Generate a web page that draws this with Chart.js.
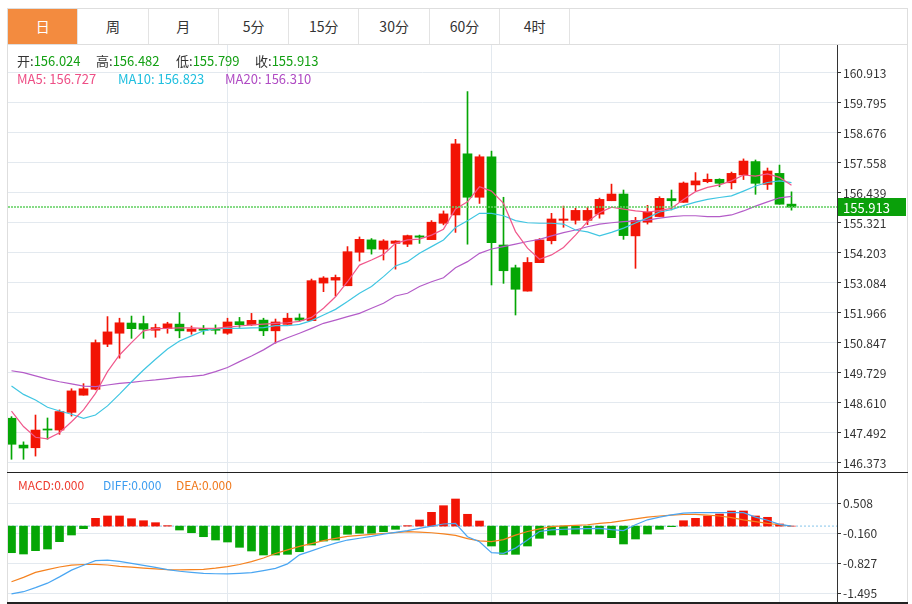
<!DOCTYPE html>
<html><head><meta charset="utf-8">
<script src="https://cdn.jsdelivr.net/npm/chart.js@4.4.0/dist/chart.umd.min.js"></script>
<style>
html,body{margin:0;padding:0;background:#fff;width:912px;height:604px;overflow:hidden;font-family:"Microsoft YaHei","Noto Sans CJK SC",sans-serif;}
#frame{position:absolute;left:7px;top:8px;width:901px;height:596px;border:1px solid #dedede;border-bottom:none;box-sizing:border-box;}
#tabs{position:absolute;left:7px;top:8px;width:901px;height:37px;border:1px solid #dedede;box-sizing:border-box;display:flex;background:#fff;}
.tab{width:70.3px;height:35px;line-height:35px;text-align:center;font-size:14px;color:#333;border-right:1px solid #e3e3e3;box-sizing:border-box;flex:none;}
.tab.on{background:#f38b3f;color:#fff;}
.lg{position:absolute;font-size:13px;line-height:16px;white-space:nowrap;z-index:2;}
.lm{position:absolute;font-size:12px;line-height:14px;white-space:nowrap;z-index:2;}
.k{color:#333}.g{color:#14a014}
#mainWrap{position:absolute;left:8px;top:45px;width:899px;height:427px;}
#macdWrap{position:absolute;left:8px;top:473px;width:899px;height:129px;}
#sep{position:absolute;left:7px;top:472px;width:901px;height:1px;background:#222;}
#bot{position:absolute;left:7px;top:602px;width:901px;height:2px;background:#222;}
</style></head>
<body>
<div id="frame"></div>
<div id="tabs">
<div class="tab on">日</div><div class="tab">周</div><div class="tab">月</div><div class="tab">5分</div><div class="tab">15分</div><div class="tab">30分</div><div class="tab">60分</div><div class="tab">4时</div>
</div>
<div class="lg" style="left:17px;top:53px"><span class="k">开:</span><span class="g">156.024</span></div>
<div class="lg" style="left:96px;top:53px"><span class="k">高:</span><span class="g">156.482</span></div>
<div class="lg" style="left:176px;top:53px"><span class="k">低:</span><span class="g">155.799</span></div>
<div class="lg" style="left:255px;top:53px"><span class="k">收:</span><span class="g">155.913</span></div>
<div class="lg" style="left:17px;top:71px;color:#ee4f86">MA5: 156.727</div>
<div class="lg" style="left:118px;top:71px;color:#1fbfdf">MA10: 156.823</div>
<div class="lg" style="left:225px;top:71px;color:#b04cc4">MA20: 156.310</div>
<div class="lm" style="left:18px;top:478px;color:#ee3b2f">MACD:0.000</div>
<div class="lm" style="left:103px;top:478px;color:#3d9df0">DIFF:0.000</div>
<div class="lm" style="left:176px;top:478px;color:#f07a1e">DEA:0.000</div>
<div id="mainWrap"><canvas id="main" width="899" height="427"></canvas></div>
<div id="sep"></div>
<div id="macdWrap"><canvas id="macd" width="899" height="129"></canvas></div>
<div id="bot"></div>
<script>
// ---- data ----
const opens  = [148.04,147.04,146.94,147.64,147.60,148.26,148.90,149.12,150.80,151.21,151.59,151.57,151.32,151.38,151.55,151.28,151.38,151.37,151.21,151.64,151.52,151.70,151.30,151.54,151.78,151.68,153.08,153.19,152.98,154.23,154.69,154.34,154.56,154.53,154.84,154.70,155.31,155.62,157.90,156.28,157.79,154.50,153.65,152.78,153.84,154.66,155.42,155.42,155.42,155.65,156.15,156.40,154.84,155.35,155.56,156.23,156.09,156.74,156.86,156.95,156.82,157.11,157.61,156.76,157.17,156.024];
const highs  = [148.10,147.16,148.16,148.05,148.35,149.14,149.33,150.96,151.83,151.77,151.85,151.85,151.55,151.62,151.98,151.48,151.50,151.52,151.77,151.80,151.95,151.77,151.74,151.95,151.93,153.23,153.32,153.38,154.44,154.80,154.74,154.70,154.66,154.87,154.87,155.41,155.77,158.44,160.22,157.86,158.00,156.28,153.75,154.03,154.74,155.68,155.95,155.87,155.91,156.25,156.77,156.55,155.53,155.98,156.30,156.55,156.85,157.20,157.15,156.97,157.22,157.71,157.67,157.37,157.48,156.482];
const lows   = [146.51,146.51,146.63,147.26,147.44,148.12,148.90,149.10,150.71,150.28,151.02,151.02,151.06,151.21,151.04,151.17,151.17,151.18,151.17,151.43,151.50,151.12,150.84,151.54,151.65,151.68,152.76,152.60,152.98,153.90,154.16,153.94,153.60,154.44,154.56,154.70,155.25,154.97,154.53,156.05,153.01,153.07,151.89,152.78,153.84,154.54,155.16,155.28,155.26,155.50,156.15,154.71,153.63,155.28,155.56,155.81,156.09,156.52,156.82,156.67,156.59,156.94,156.39,156.57,156.02,155.799];
const closes = [147.07,146.93,147.60,147.60,148.29,149.06,149.14,150.86,151.26,151.60,151.38,151.36,151.42,151.56,151.30,151.37,151.32,151.32,151.63,151.53,151.69,151.30,151.63,151.77,151.70,153.17,153.27,153.29,154.25,154.71,154.35,154.65,154.65,154.85,154.79,155.35,155.66,158.27,156.28,157.79,154.59,153.54,152.85,153.85,154.69,155.47,155.47,155.79,155.79,156.20,156.40,154.85,155.42,155.73,156.24,156.15,156.81,156.89,156.95,156.80,157.17,157.63,156.80,157.26,156.02,155.913];
const ma5  = [148.31,147.73,147.33,147.27,147.50,147.91,148.35,148.97,149.78,150.40,150.86,151.30,151.38,151.39,151.41,151.41,151.39,151.39,151.44,151.48,151.52,151.55,151.58,151.60,151.65,151.80,152.14,152.57,153.13,153.75,153.94,154.15,154.56,154.69,154.72,154.87,155.09,155.84,156.11,156.67,156.51,156.05,155.00,154.38,153.97,154.13,154.41,154.87,155.37,155.70,155.91,155.84,155.77,155.73,155.78,155.87,156.20,156.49,156.65,156.74,156.89,157.11,157.07,157.15,157.02,156.727];
const ma10 = [149.24,148.93,148.72,148.45,148.31,148.19,148.04,148.16,148.50,148.94,149.40,149.84,150.24,150.62,150.92,151.11,151.30,151.38,151.39,151.39,151.41,151.42,151.49,151.49,151.54,151.68,151.89,152.10,152.39,152.70,152.95,153.32,153.72,153.88,154.19,154.44,154.69,155.15,155.40,155.68,155.68,155.59,155.41,155.33,155.31,155.31,155.28,155.06,154.99,154.84,154.97,155.13,155.32,155.51,155.73,155.82,155.97,156.10,156.20,156.27,156.33,156.51,156.70,156.83,156.89,156.823];
const ma20 = [149.81,149.74,149.62,149.50,149.40,149.32,149.24,149.22,149.28,149.34,149.38,149.43,149.47,149.52,149.57,149.60,149.65,149.78,149.93,150.15,150.36,150.59,150.86,151.04,151.21,151.39,151.58,151.70,151.83,151.95,152.14,152.33,152.60,152.70,152.95,153.13,153.28,153.65,153.88,154.19,154.35,154.44,154.53,154.63,154.71,154.84,154.96,155.06,155.18,155.28,155.33,155.37,155.40,155.43,155.50,155.56,155.59,155.59,155.56,155.56,155.62,155.77,155.95,156.11,156.26,156.31];
const macdBar = [-0.592,-0.621,-0.547,-0.510,-0.347,-0.198,-0.057,0.173,0.225,0.225,0.165,0.120,0.076,0.010,-0.087,-0.147,-0.236,-0.309,-0.354,-0.472,-0.554,-0.643,-0.643,-0.628,-0.570,-0.421,-0.332,-0.309,-0.182,-0.160,-0.160,-0.125,-0.071,0.010,0.136,0.307,0.454,0.603,0.263,0.113,-0.443,-0.628,-0.628,-0.443,-0.272,-0.198,-0.198,-0.176,-0.176,-0.176,-0.258,-0.398,-0.287,-0.176,-0.071,-0.013,0.120,0.173,0.225,0.269,0.336,0.336,0.225,0.196,0.047,0.000];
const diff = [-1.51,-1.46,-1.37,-1.27,-1.13,-0.98,-0.87,-0.77,-0.755,-0.785,-0.83,-0.875,-0.92,-0.97,-1.005,-1.03,-1.05,-1.06,-1.065,-1.05,-1.035,-0.99,-0.94,-0.84,-0.64,-0.55,-0.46,-0.38,-0.31,-0.27,-0.23,-0.18,-0.14,-0.10,-0.05,0.00,0.047,0.062,-0.236,-0.347,-0.59,-0.605,-0.49,-0.31,-0.12,-0.085,-0.07,-0.063,-0.058,-0.05,-0.08,-0.10,0.03,0.14,0.20,0.25,0.29,0.298,0.298,0.298,0.298,0.298,0.20,0.13,0.04,0.00];
const dea  = [-1.237,-1.14,-1.03,-0.97,-0.91,-0.87,-0.855,-0.85,-0.865,-0.895,-0.915,-0.935,-0.95,-0.97,-0.975,-0.97,-0.962,-0.935,-0.90,-0.855,-0.79,-0.71,-0.61,-0.53,-0.45,-0.39,-0.325,-0.275,-0.23,-0.205,-0.185,-0.165,-0.145,-0.125,-0.135,-0.148,-0.175,-0.205,-0.28,-0.33,-0.347,-0.30,-0.20,-0.12,-0.06,-0.01,0.005,0.015,0.03,0.06,0.085,0.12,0.16,0.20,0.225,0.245,0.258,0.26,0.245,0.225,0.19,0.14,0.10,0.06,0.03,0.00];
const priceTicks = [160.913,159.795,158.676,157.558,156.439,155.321,154.203,153.084,151.966,150.847,149.729,148.610,147.492,146.373];
const macdTicks = [0.508,-0.160,-0.827,-1.495];
const gridDays = [18,40,64];
const lastClose = 155.913;

// ---- layout constants ----
const xMin = -0.29167, xMax = xMin + 829/12;
const UP = '#f21405', DOWN = '#05a605';
const FONT = '"Microsoft YaHei","Noto Sans CJK SC",sans-serif';
Chart.defaults.font.family = FONT;

const candleColors = opens.map((o,i)=> closes[i] >= o ? UP : DOWN);
const idx = v => v.map((y,i)=>({x:i,y:y}));

const lastLabel = {
  id:'lastLabel',
  afterDraw(chart){
    const {ctx, scales:{y}, chartArea} = chart;
    const py = Math.round(y.getPixelForValue(lastClose));
    ctx.save();
    ctx.fillStyle = '#0aa00a';
    ctx.fillRect(chartArea.right+1, py-9, chart.width-chartArea.right-2, 18);
    ctx.fillStyle = '#fff';
    ctx.font = '13px '+FONT;
    ctx.textBaseline = 'middle';
    ctx.fillText(lastClose.toFixed(3), chartArea.right+6, py+1);
    ctx.restore();
  }
};

function xScale(){
  return {type:'linear', min:xMin, max:xMax, offset:false,
    ticks:{display:false}, grid:{color:'#e3e9ef', drawTicks:false, offset:false}, border:{display:false},
    afterBuildTicks:s=>{s.ticks = gridDays.map(v=>({value:v}));},
    afterFit:s=>{s.height=0; s.paddingLeft=0; s.paddingRight=0;}};
}
function yScale(min,max,ticks){
  return {position:'right', min:min, max:max,
    afterBuildTicks:s=>{s.ticks = ticks.map(v=>({value:v}));},
    ticks:{callback:v=>Number(v).toFixed(3), color:'#333', font:{size:12}, padding:2},
    grid:{color:'#e3e9ef', tickColor:'#333', tickLength:4},
    border:{color:'#333'},
    afterFit:s=>{s.width=70; s.paddingTop=0; s.paddingBottom=0;}};
}

new Chart(document.getElementById('main'), {
  type:'bar',
  data:{datasets:[
    {type:'line', data:[{x:xMin,y:lastClose},{x:xMax,y:lastClose}], borderColor:'#5fd05f', borderDash:[2,1], borderWidth:1.5, pointRadius:0, order:0},
    {type:'line', data:idx(ma5), borderColor:'#f0588c', borderWidth:1.2, pointRadius:0, order:1},
    {type:'line', data:idx(ma10), borderColor:'#40c6e2', borderWidth:1.2, pointRadius:0, order:1},
    {type:'line', data:idx(ma20), borderColor:'#b45cc8', borderWidth:1.2, pointRadius:0, order:1},
    {type:'bar', data:lows.map((l,i)=>({x:i,y:[l,highs[i]]})), backgroundColor:candleColors, barThickness:1, grouped:false, order:3},
    {type:'bar', data:opens.map((o,i)=>({x:i,y:[o,closes[i]]})), backgroundColor:candleColors, barThickness:9, minBarLength:1, grouped:false, order:2}
  ]},
  options:{responsive:false, animation:false, events:[], layout:{padding:0, autoPadding:false},
    plugins:{legend:{display:false}, tooltip:{enabled:false}},
    scales:{x:xScale(), y:yScale(146.036,161.957,priceTicks)}},
  plugins:[lastLabel]
});

new Chart(document.getElementById('macd'), {
  type:'bar',
  data:{datasets:[
    {type:'line', data:idx(diff), borderColor:'#4aa6f2', borderWidth:1.2, pointRadius:0, order:0},
    {type:'line', data:idx(dea), borderColor:'#f5821f', borderWidth:1.2, pointRadius:0, order:0},
    {type:'bar', data:idx(macdBar), backgroundColor:macdBar.map(v=>v>=0?UP:DOWN), barThickness:8, grouped:false, order:1},
    {type:'line', data:[{x:xMin,y:0},{x:xMax,y:0}], borderColor:'rgba(110,185,230,0.7)', borderDash:[2,2], borderWidth:1.2, pointRadius:0, order:5}
  ]},
  options:{responsive:false, animation:false, events:[], layout:{padding:0, autoPadding:false},
    plugins:{legend:{display:false}, tooltip:{enabled:false}},
    scales:{x:xScale(), y:yScale(-1.6889,1.1816,macdTicks)}}
});
</script>
</body></html>
